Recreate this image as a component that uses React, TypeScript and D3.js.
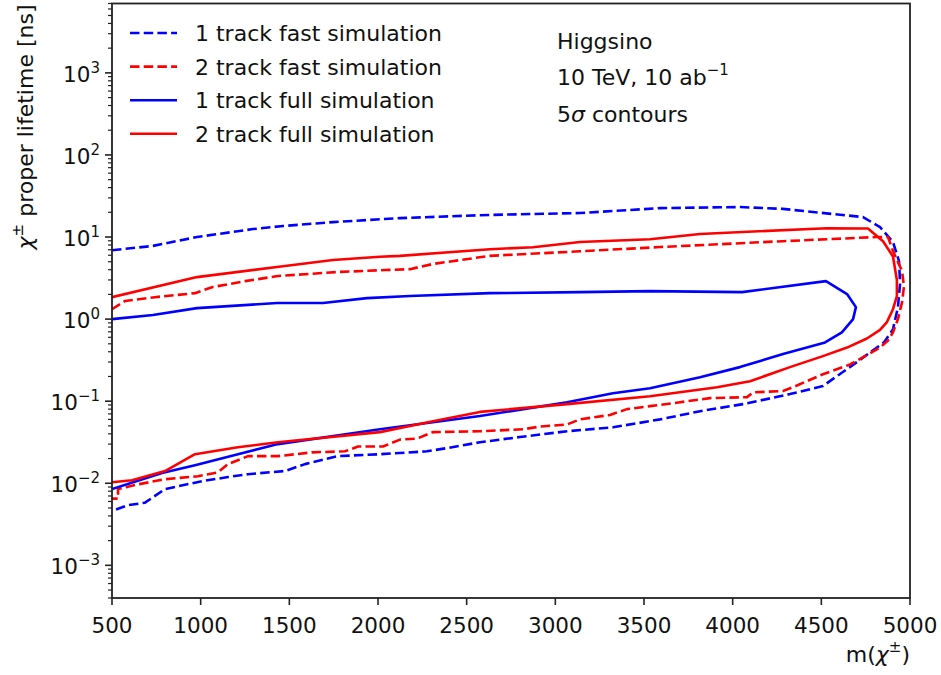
import React from "react";
import * as d3 from "d3";

// ---- data: contours as [mass, lifetime] pairs ----
const oneTrackFast: [number, number][] = [
  [500, 6.9], [731, 7.8], [979, 10.0], [1295, 12.5], [1464, 13.6], [1746, 15.2], [2124, 17.0],
  [2631, 18.6], [3139, 19.6], [3590, 22.5], [4041, 23.2], [4284, 22], [4735, 17.5], [4831, 13.2],
  [4904, 8.7], [4938, 5.1], [4944, 2.7], [4932, 1.4], [4904, 0.75], [4853, 0.52], [4701, 0.30],
  [4509, 0.153], [4323, 0.122], [4058, 0.092], [3816, 0.0755], [3590, 0.060], [3325, 0.048],
  [3066, 0.043], [2800, 0.0366], [2575, 0.0316], [2389, 0.0268], [2276, 0.0245], [2011, 0.0226],
  [1774, 0.0214], [1588, 0.0171], [1476, 0.0141], [1267, 0.0129], [1154, 0.0119], [1008, 0.0106],
  [799, 0.0085], [686, 0.0058], [590, 0.0054], [500, 0.0046],
];

const twoTrackFast: [number, number][] = [
  [500, 1.32], [573, 1.66], [742, 1.85], [968, 2.07], [1064, 2.45], [1250, 2.9], [1436, 3.35],
  [1774, 3.75], [2040, 3.96], [2180, 4.06], [2310, 4.7], [2631, 5.9], [3139, 6.7], [3590, 7.55],
  [4284, 8.9], [4814, 10.0], [4876, 10.0], [4904, 6.75], [4955, 3.85], [4966, 2.5], [4955, 1.6],
  [4932, 1.0], [4904, 0.69], [4876, 0.55], [4831, 0.45], [4662, 0.28], [4509, 0.213], [4340, 0.148],
  [4284, 0.133], [4115, 0.128], [4081, 0.112], [3872, 0.109], [3703, 0.097], [3534, 0.087],
  [3404, 0.080], [3308, 0.068], [3139, 0.060], [3066, 0.052], [2913, 0.049], [2818, 0.0455],
  [2575, 0.043], [2310, 0.042], [2220, 0.035], [2124, 0.034], [2028, 0.028], [1887, 0.028],
  [1814, 0.0245], [1628, 0.0238], [1436, 0.0214], [1267, 0.0214], [1154, 0.0171], [1098, 0.0136],
  [985, 0.0122], [799, 0.0112], [647, 0.0097], [534, 0.0085], [534, 0.0065], [500, 0.0065],
];

const oneTrackFull: [number, number][] = [
  [500, 1.0], [731, 1.12], [979, 1.36], [1430, 1.57], [1690, 1.57], [1938, 1.80], [2180, 1.91],
  [2631, 2.07], [3139, 2.13], [3534, 2.19], [4053, 2.13], [4526, 2.90], [4645, 2.02], [4695, 1.40],
  [4679, 1.0], [4616, 0.69], [4521, 0.52], [4284, 0.375], [4041, 0.26], [3816, 0.196],
  [3534, 0.144], [3325, 0.125], [3066, 0.097], [2575, 0.066], [2011, 0.0455], [1436, 0.030],
  [1210, 0.0226], [968, 0.0166], [782, 0.0133], [500, 0.0085],
];

const twoTrackFull: [number, number][] = [
  [500, 1.85], [979, 3.25], [1464, 4.4], [1746, 5.25], [2011, 5.75], [2124, 5.9], [2631, 7.1],
  [2874, 7.5], [3139, 8.7], [3534, 9.4], [3816, 10.9], [4532, 12.8], [4763, 12.7], [4848, 8.9],
  [4904, 5.8], [4926, 3.0], [4926, 1.9], [4904, 1.32], [4870, 0.92], [4831, 0.74], [4757, 0.58],
  [4645, 0.45], [4509, 0.354], [4323, 0.26], [4098, 0.175], [3912, 0.148], [3534, 0.115],
  [3066, 0.092], [2575, 0.074], [2310, 0.057], [2011, 0.042], [1436, 0.0316], [1210, 0.0275],
  [968, 0.0226], [799, 0.0141], [613, 0.0109], [500, 0.0103],
];

const seriesLabels = [
  "1 track fast simulation",
  "2 track fast simulation",
  "1 track full simulation",
  "2 track full simulation",
];
const seriesData = [oneTrackFast, twoTrackFast, oneTrackFull, twoTrackFull];
const seriesColors = ["#0000ff", "#ff0000", "#0000ff", "#ff0000"];
const seriesDashed = [true, true, false, false];

const xTicks = [500, 1000, 1500, 2000, 2500, 3000, 3500, 4000, 4500, 5000];
const yTickExps = [-3, -2, -1, 0, 1, 2, 3];
const annotationLines = ["Higgsino", "10 TeV, 10 ab", "5σ contours"];

const W = 941;
const H = 675;
const left = 112;
const right = 910;
const top = 3.5;
const bottom = 598;
const FONT = "DejaVu Sans, sans-serif";
const FS = 22;
const TFS = 21.5;

export default function App() {
  const x = d3.scaleLinear().domain([500, 5000]).range([left, right]);
  const y = d3.scaleLog().domain([4e-4, 7e3]).range([bottom, top]);
  const line = d3
    .line<[number, number]>()
    .x((d) => x(d[0]))
    .y((d) => y(d[1]));

  const minorTicks: number[] = [];
  for (let e = -4; e <= 3; e++) {
    for (let k = 2; k <= 9; k++) {
      const v = k * Math.pow(10, e);
      if (v >= 4e-4 && v <= 7e3) minorTicks.push(v);
    }
  }

  return (
    <svg width={W} height={H} style={{ position: "absolute", left: 0, top: 0, background: "#fff" }} fontFamily={FONT}>
      <defs>
        <clipPath id="plotclip">
          <rect x={left} y={top} width={right - left} height={bottom - top} />
        </clipPath>
      </defs>
      <rect x={0} y={0} width={W} height={H} fill="#fff" />

      {/* contours */}
      <g clipPath="url(#plotclip)">
        {seriesData.map((d, i) => (
          <path
            key={i}
            d={line(d) || ""}
            fill="none"
            stroke={seriesColors[i]}
            strokeWidth={2.6}
            strokeDasharray={seriesDashed[i] ? "9.5,4.2" : undefined}
            strokeLinejoin="round"
          />
        ))}
      </g>

      {/* frame */}
      <rect x={left} y={top} width={right - left} height={bottom - top} fill="none" stroke="#222" strokeWidth={1.8} />

      {/* x ticks */}
      {xTicks.map((t) => (
        <g key={t}>
          <line x1={x(t)} x2={x(t)} y1={bottom} y2={bottom + 7} stroke="#222" strokeWidth={1.6} />
          <text x={x(t)} y={633} textAnchor="middle" fontSize={TFS} fill="#111">
            {t}
          </text>
        </g>
      ))}

      {/* y minor ticks */}
      {minorTicks.map((v, i) => (
        <line key={i} x1={left - 4} x2={left} y1={y(v)} y2={y(v)} stroke="#222" strokeWidth={1.2} />
      ))}

      {/* y major ticks */}
      {yTickExps.map((e) => {
        const yy = y(Math.pow(10, e));
        return (
          <g key={e}>
            <line x1={left - 7} x2={left} y1={yy} y2={yy} stroke="#222" strokeWidth={1.6} />
            <text x={100} y={yy + 9} textAnchor="end" fontSize={TFS} fill="#111">
              10
              <tspan fontSize={15} dy={-9}>
                {e < 0 ? "\u2212" + Math.abs(e) : String(e)}
              </tspan>
            </text>
          </g>
        );
      })}

      {/* axis labels */}
      <text x={right} y={662} textAnchor="end" fontSize={FS} fill="#111">
        m(<tspan fontStyle="italic">χ</tspan>
        <tspan fontSize={15} dy={-10}>±</tspan>
        <tspan dy={10}>)</tspan>
      </text>
      <text transform={`translate(33, ${top + 1}) rotate(-90)`} textAnchor="end" fontSize={FS} fill="#111">
        <tspan fontStyle="italic">χ</tspan>
        <tspan fontSize={15} dy={-10}>±</tspan>
        <tspan dy={10}> proper lifetime [ns]</tspan>
      </text>

      {/* legend */}
      {seriesLabels.map((lab, i) => {
        const yy = 33 + i * 33.6;
        return (
          <g key={lab}>
            <line
              x1={130}
              x2={177}
              y1={yy}
              y2={yy}
              stroke={seriesColors[i]}
              strokeWidth={2.6}
              strokeDasharray={seriesDashed[i] ? "9.5,4.2" : undefined}
            />
            <text x={195} y={yy + 8} fontSize={FS} fill="#111">
              {lab}
            </text>
          </g>
        );
      })}

      {/* annotation */}
      <text x={557} y={49} fontSize={FS} fill="#111">
        {annotationLines[0]}
      </text>
      <text x={557} y={85} fontSize={FS} fill="#111">
        {annotationLines[1]}
        <tspan fontSize={15} dy={-10}>{"\u22121"}</tspan>
      </text>
      <text x={557} y={122} fontSize={FS} fill="#111">
        5<tspan fontStyle="italic">σ</tspan> contours
      </text>
    </svg>
  );
}
